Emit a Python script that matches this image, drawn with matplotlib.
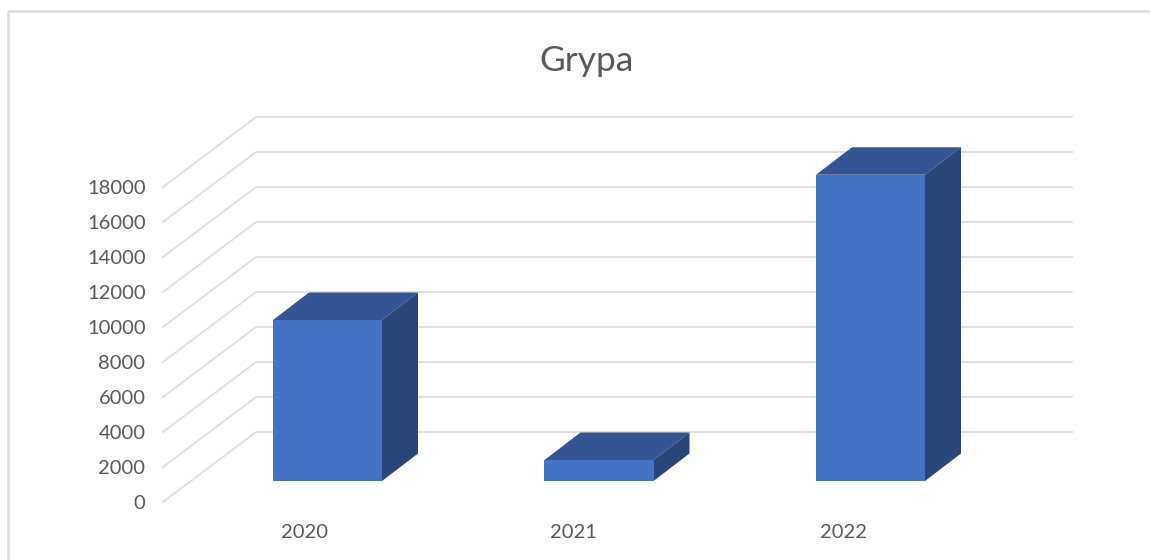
import matplotlib
matplotlib.use("Agg")

import matplotlib.pyplot as plt
from matplotlib.patches import Polygon

plt.rcParams["font.family"] = ["Lato", "DejaVu Sans"]

title = "Grypa"
years = ["2020", "2021", "2022"]
cases = [9200, 1200, 17500]
y_ticks = [0, 2000, 4000, 6000, 8000, 10000, 12000, 14000, 16000, 18000]

# fake 3D, everything is in data units: x = category index, y = cases
CAT_PX = 271.5
VAL_PX = 0.0175  # pixels per case
BAR_W = 0.4015
DEPTH_X = 36 / CAT_PX
DEPTH_Y = 27.5 / VAL_PX
WALL_FRONT_X = -0.606
WALL_BACK_X = -0.263
WALL_RIGHT_X = 2.742
WALL_FRONT_DY = -1200
WALL_BACK_DY = 2800

FRONT = "#4472c4"
TOP = "#335593"
SIDE = "#284678"
GRID = "#e0e0e0"
TEXT = "#595959"

fig = plt.figure(figsize=(11.5, 5.6), dpi=100)
ax = fig.add_axes([0, 0, 1, 1])
ax.set_xlim(-327.5 / CAT_PX, (1150 - 327.5) / CAT_PX)
ax.set_ylim(-79 / VAL_PX, 481 / VAL_PX)
ax.axis("off")

# outer chart frame (only top and left are visible in the crop)
ax.plot([8 / 1150, 8 / 1150, 1], [0, 1 - 11 / 560, 1 - 11 / 560],
        transform=ax.transAxes, color="#dcdcdc", lw=1.8, zorder=1)

for v in y_ticks:
    ax.plot([WALL_FRONT_X, WALL_BACK_X, WALL_RIGHT_X],
            [v + WALL_FRONT_DY, v + WALL_BACK_DY, v + WALL_BACK_DY],
            color=GRID, lw=1.4, zorder=2)
    ax.text(-182 / CAT_PX, v + WALL_FRONT_DY - 80, str(v), ha="right", va="center",
            fontsize=14.5, color=TEXT)

positions = list(range(len(years)))
ax.bar(positions, cases, width=BAR_W, color=FRONT, zorder=5)

for x, v in zip(positions, cases):
    left = x - BAR_W / 2
    right = x + BAR_W / 2
    top_face = [(left, v), (right, v), (right + DEPTH_X, v + DEPTH_Y), (left + DEPTH_X, v + DEPTH_Y)]
    side_face = [(right, 0), (right + DEPTH_X, DEPTH_Y), (right + DEPTH_X, v + DEPTH_Y), (right, v)]
    ax.add_patch(Polygon(top_face, facecolor=TOP, edgecolor="none", zorder=4))
    ax.add_patch(Polygon(side_face, facecolor=SIDE, edgecolor="none", zorder=4))
    # the year labels sit a little tighter than the bars in the reference
    ax.text(x * 269.5 / CAT_PX - 23.5 / CAT_PX, -52 / VAL_PX, years[x], ha="center", va="center",
            fontsize=14.5, color=TEXT)

ax.text(259 / CAT_PX, (481 - 61) / VAL_PX, title, ha="center", va="center",
        fontsize=25.5, color=TEXT)

fig.savefig("out.png", dpi=100)
plt.close(fig)
